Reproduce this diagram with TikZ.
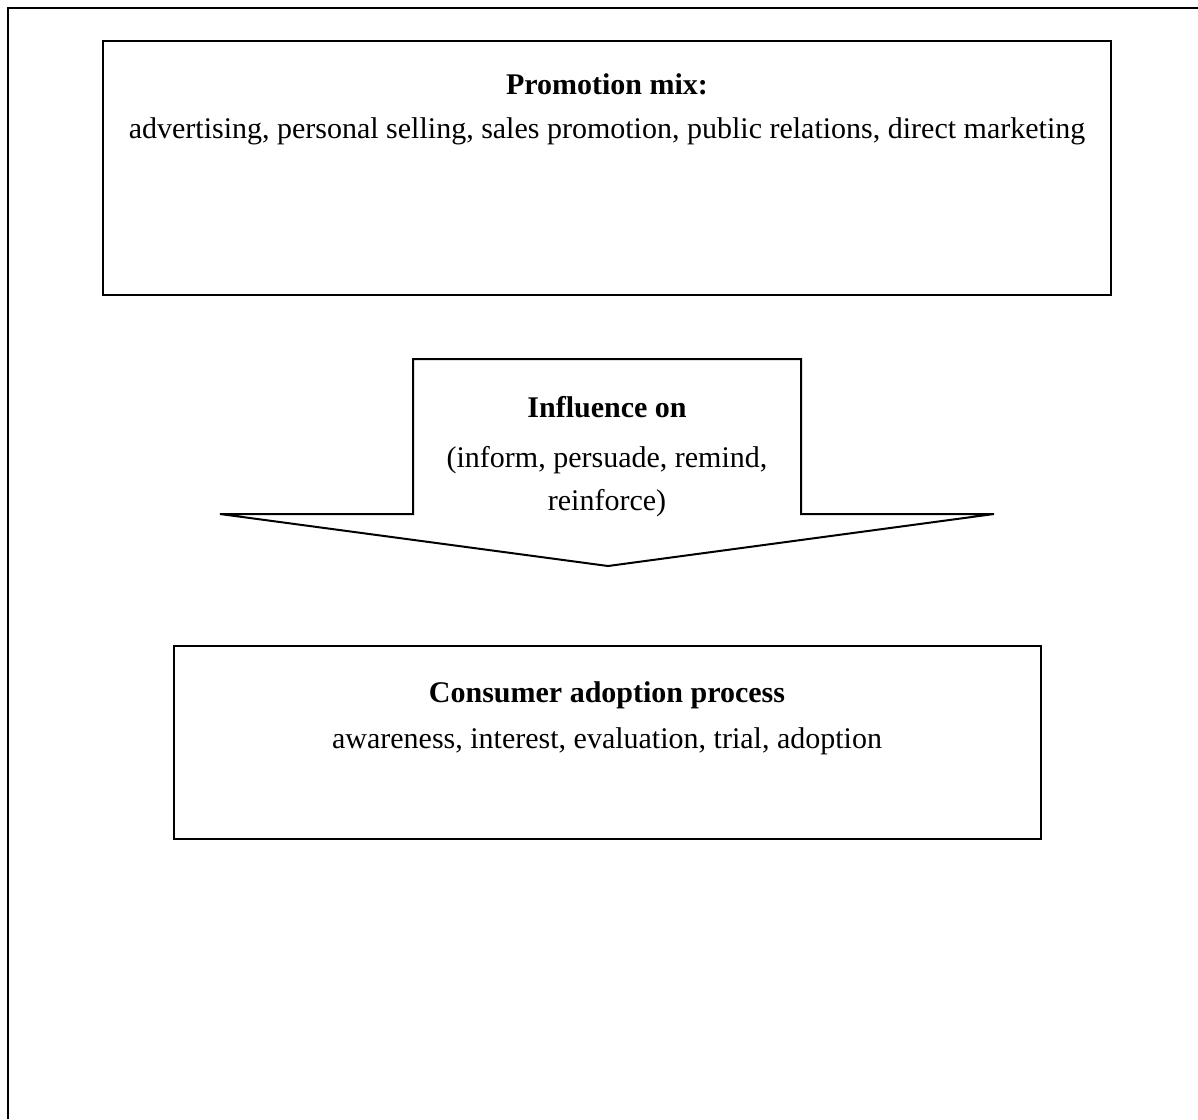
\documentclass[tikz,border=0pt]{standalone}
\usepackage{fontspec}
\setmainfont{Liberation Serif}
\begin{document}
\begin{tikzpicture}[x=0.5pt,y=-0.5pt,
  frameline/.style={draw=black,line width=1pt},
  txt/.style={inner sep=0pt,font=\fontsize{15}{18}\selectfont},
  btxt/.style={inner sep=0pt,font=\fontsize{15}{18}\selectfont\bfseries}]
\useasboundingbox (0,0) rectangle (1198,1119);
% outer frame (open right and bottom)
\draw[frameline] (8,1119) -- (8,8) -- (1198,8);
% top box
\draw[frameline] (103,41) rectangle (1111,295);
\node[btxt] (pmt) at (607,84) {Promotion mix:};
\node[txt] (pml) at (607,131) {advertising, personal selling, sales promotion, public relations, direct marketing};
% arrow
\draw[frameline,line join=miter] (413,359) -- (801,359) -- (801,514) -- (994,514) -- (608,566) -- (220,514) -- (413,514) -- cycle;
\node[btxt] (inf) at (607,407) {Influence on};
\node[txt] (inf1) at (607,460) {(inform, persuade, remind,};
\node[txt] (inf2) at (607,503) {reinforce)};
% bottom box
\draw[frameline] (174,646) rectangle (1041,839);
\node[btxt] (cat) at (607,695) {Consumer adoption process};
\node[txt] (cal) at (607,741) {awareness, interest, evaluation, trial, adoption};
\end{tikzpicture}
\end{document}
